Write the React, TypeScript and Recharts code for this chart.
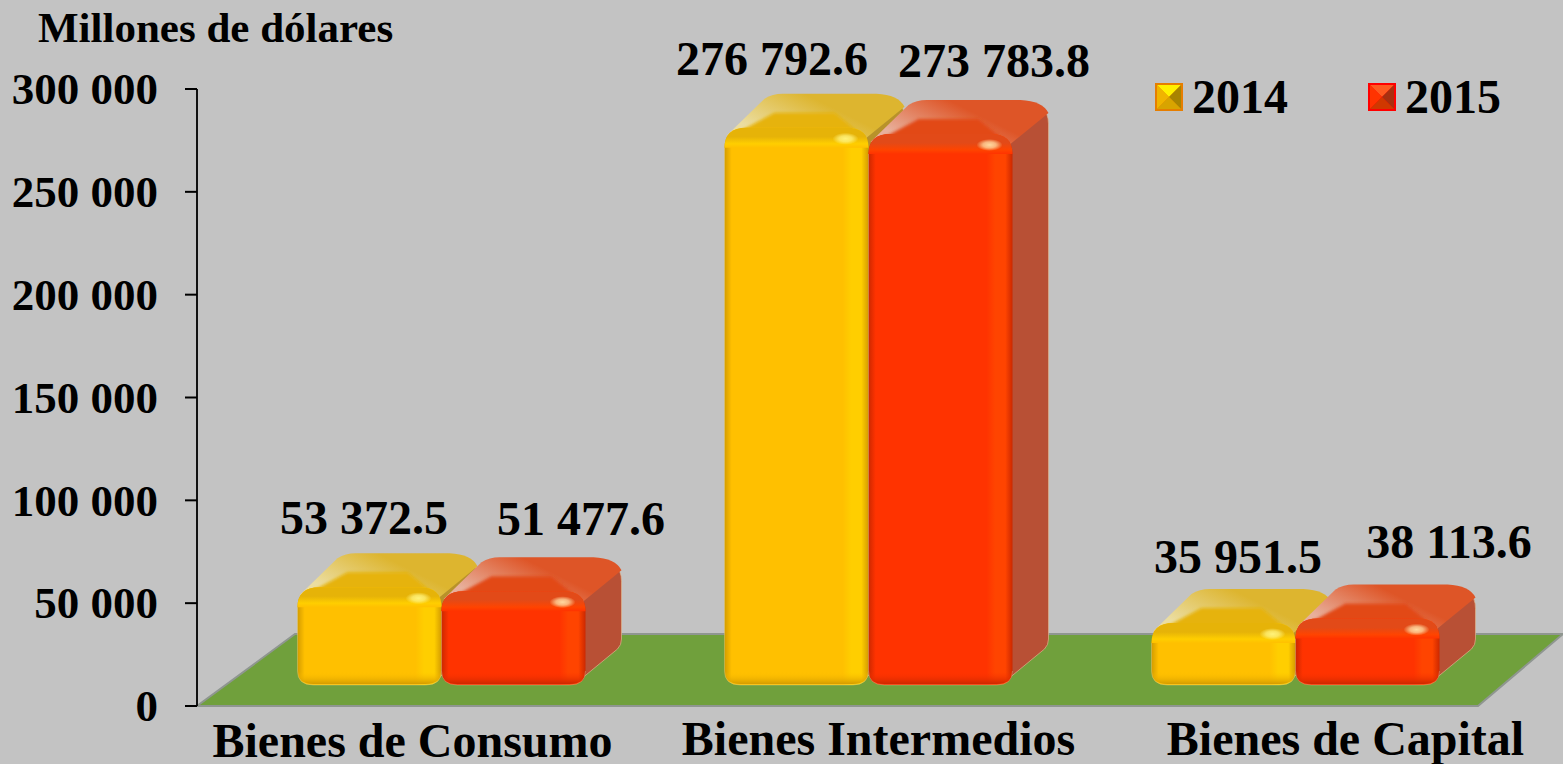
import React from "react";
import { BarChart, Bar, XAxis, YAxis, Legend, LabelList, ReferenceArea } from "recharts";

const categories = ["Bienes de Consumo", "Bienes Intermedios", "Bienes de Capital"];
const values2014 = [53372.5, 276792.6, 35951.5];
const values2015 = [51477.6, 273783.8, 38113.6];
const yTicks = [0, 50000, 100000, 150000, 200000, 250000, 300000];

const data = categories.map((name, i) => ({ name, y2014: values2014[i], y2015: values2015[i] }));

const SERIF = "'Liberation Serif', 'Times New Roman', serif";

// hand placed text offsets, the original has its labels dragged around
const catDx = [2, 41, 81];
const catY = [757, 755, 755];
const labelShift2014 = [[25, -62], [6, -62], [45, -59]];
const labelShift2015 = [[98, -65], [84, -66], [112, -70]];

const YELLOW = { id: "yel", front: "#FFC000", bright: "#FFCE00", edge: "#D49C00", side: "#B8922A", top: "#DDB52F", mid: "#E6B308", pale: "#EBDDA0", spec: "#FFF27A", line: "#E2CF8A" };
const RED = { id: "red", front: "#FF3300", bright: "#FF4400", edge: "#CC2800", side: "#B85035", top: "#DE5527", mid: "#E24A18", pale: "#E8B09C", spec: "#FFD9A0", line: "#DDB48E" };

const fmt = (v: number) => {
  const [a, b] = String(v).split(".");
  const s = a.replace(/\B(?=(\d{3})+(?!\d))/g, " ");
  return b ? s + "." + b : s;
};

function Gradients() {
  return (
    <defs>
      <filter id="soft" x="-10%" y="-10%" width="120%" height="120%">
        <feGaussianBlur stdDeviation="1.5" />
      </filter>
      {[YELLOW, RED].map((c) => (
        <React.Fragment key={c.id}>
          <linearGradient id={c.id + "H"} x1="0" x2="1" y1="0" y2="0">
            <stop offset="0" stopColor={c.edge} />
            <stop offset="0.05" stopColor={c.front} />
            <stop offset="0.82" stopColor={c.front} />
            <stop offset="0.88" stopColor={c.bright} />
            <stop offset="0.95" stopColor={c.bright} />
            <stop offset="1" stopColor={c.edge} />
          </linearGradient>
          <linearGradient id={c.id + "V"} x1="0" x2="0" y1="0" y2="1">
            <stop offset="0" stopColor={c.mid} />
            <stop offset="0.45" stopColor={c.mid} />
            <stop offset="0.8" stopColor={c.bright} />
            <stop offset="1" stopColor={c.front} />
          </linearGradient>
          <linearGradient id={c.id + "B"} x1="0" x2="0" y1="0" y2="1">
            <stop offset="0" stopColor={c.front} stopOpacity={0} />
            <stop offset="1" stopColor={c.edge} />
          </linearGradient>
          <linearGradient id={c.id + "P"} x1="0" x2="1" y1="0.5" y2="0">
            <stop offset="0" stopColor={c.pale} />
            <stop offset="0.55" stopColor={c.top} />
            <stop offset="1" stopColor={c.top} />
          </linearGradient>
          <radialGradient id={c.id + "S"}>
            <stop offset="0" stopColor={c.spec} />
            <stop offset="0.5" stopColor={c.spec} stopOpacity={0.75} />
            <stop offset="1" stopColor={c.spec} stopOpacity={0} />
          </radialGradient>
        </React.Fragment>
      ))}
    </defs>
  );
}

const SHIFT_X = 30.5;
const SHIFT_Y = 21;
const DEPTH_X = 36;
const DEPTH_Y = 33;

function makeBar(c: typeof YELLOW) {
  return function Bar3D(props: any) {
    const { x, y, width, height } = props;
    const L = x + SHIFT_X;
    const R = L + width;
    const T = y - 9;
    const B = y + height - SHIFT_Y;
    const backT = y - 10 - DEPTH_Y;
    const front = `M${L} ${T + 20} Q${L} ${T} ${L + 22} ${T} L${R - 22} ${T} Q${R} ${T} ${R} ${T + 20} L${R} ${B - 14} Q${R} ${B} ${R - 16} ${B} L${L + 16} ${B} Q${L} ${B} ${L} ${B - 14} Z`;
    return (
      <g>
        {/* right side */}
        <path
          d={`M${R - 2} ${T + 6} L${R + DEPTH_X - 6} ${backT + 10} Q${R + DEPTH_X} ${backT + 13} ${R + DEPTH_X} ${backT + 24} L${R + DEPTH_X} ${B - 46} Q${R + DEPTH_X} ${B - 40} ${R + DEPTH_X - 4} ${B - 36} L${R - 2} ${B - 8} Z`}
          fill={c.side}
          stroke={c.line}
          strokeWidth={0.7}
        />
        {/* top face */}
        <path
          d={`M${L + 2} ${T + 8} L${L + 40} ${backT + 5} Q${L + 48} ${backT} ${L + 58} ${backT} L${R + 8} ${backT} Q${R + DEPTH_X - 6} ${backT + 1} ${R + DEPTH_X} ${backT + 13} L${R - 2} ${T + 10} Z`}
          fill={`url(#${c.id}P)`}
        />
        <path d={`M${L + 3} ${T + 10} L${L + 50} ${T - 15} L${L + 110} ${T - 15} L${R - 3} ${T + 10} Z`} fill={c.mid} filter="url(#soft)" />
        {/* front */}
        <path d={front} fill={`url(#${c.id}H)`} />
        <path
          d={`M${L} ${T + 20} Q${L} ${T} ${L + 22} ${T} L${R - 22} ${T} Q${R} ${T} ${R} ${T + 20} Z`}
          fill={`url(#${c.id}V)`}
        />
        <path
          d={`M${L + 1} ${B - 13} L${R - 1} ${B - 13} Q${R - 1} ${B - 1} ${R - 16} ${B - 1} L${L + 16} ${B - 1} Q${L + 1} ${B - 1} ${L + 1} ${B - 13} Z`}
          fill={`url(#${c.id}B)`}
        />
        <path
          d={`M${L} ${T + 20} L${L} ${B - 14} Q${L} ${B} ${L + 16} ${B} L${R - 16} ${B} Q${R} ${B} ${R} ${B - 14}`}
          fill="none"
          stroke={c.line}
          strokeWidth={0.6}
          strokeOpacity={0.7}
        />
        <ellipse cx={R - 23} cy={T + 11} rx={13} ry={6} fill={`url(#${c.id}S)`} />
      </g>
    );
  };
}

const FloorShape = (props: any) => {
  const { x, y, width, height } = props;
  return (
    <path
      d={`M${x} ${y + height} L${x + width} ${y + height} L${x + width + 85} ${y} L${x + 98} ${y} Z`}
      fill="#70A03C"
      stroke="#8F9690"
      strokeWidth={2}
    />
  );
};

const YTick = (props: any) => {
  const { x, y, payload } = props;
  return (
    <text x={x} y={y} dy="0.34em" textAnchor="end" fontFamily={SERIF} fontWeight="bold" fontSize={45} fill="#000">
      {fmt(payload.value).replace(" ", "\u00A0")}
    </text>
  );
};

const CatTick = (props: any) => {
  const { x, payload, index } = props;
  return (
    <text x={x + catDx[index]} y={catY[index]} textAnchor="middle" fontFamily={SERIF} fontWeight="bold" fontSize={48} fill="#000">
      {payload.value}
    </text>
  );
};

const makeLabel = (shift: number[][]) => (props: any) => {
  const { x, y, width, value, index } = props;
  return (
    <text x={x + width / 2 + shift[index][0]} y={y + shift[index][1]} textAnchor="middle" fontFamily={SERIF} fontWeight="bold" fontSize={48} fill="#000">
      {fmt(value)}
    </text>
  );
};

const LegendIcon = ({ c }: { c: typeof YELLOW }) => {
  const yel = c.id === "yel";
  return (
    <svg width={28} height={28} style={{ display: "block" }}>
      <rect width={28} height={28} fill={yel ? "#E67E00" : "#FF0000"} />
      <polygon points="2,2 26,2 14,14" fill={yel ? "#FFF000" : "#FF5A20"} />
      <polygon points="2,2 2,26 14,14" fill={yel ? "#F0B400" : "#FF3300"} />
      <polygon points="26,2 26,26 14,14" fill={yel ? "#A88400" : "#A83010"} />
      <polygon points="2,26 26,26 14,14" fill={yel ? "#D8A400" : "#D03800"} />
    </svg>
  );
};

const LegendBox = (props: any) => (
  <div style={{ display: "flex", fontFamily: SERIF, fontWeight: "bold", fontSize: 48, lineHeight: "54px", color: "#000" }}>
    {props.payload.map((p: any, i: number) => (
      <div key={p.value} style={{ display: "flex", alignItems: "center", width: 213 }}>
        <LegendIcon c={i === 0 ? YELLOW : RED} />
        <span style={{ marginLeft: 9 }}>{p.value}</span>
      </div>
    ))}
  </div>
);

export default function App() {
  return (
    <div style={{ position: "absolute", left: 0, top: 0, width: 1563, height: 764, background: "#C3C3C3", overflow: "hidden" }}>
      <div style={{ position: "absolute", left: 38, top: 4, fontFamily: SERIF, fontWeight: "bold", fontSize: 43, lineHeight: "48px", whiteSpace: "nowrap" }}>
        Millones de dólares
      </div>
      <BarChart
        width={1563}
        height={764}
        data={data}
        margin={{ top: 89, right: 85, bottom: 0, left: 0 }}
        barCategoryGap={70}
        barGap={0}
      >
        <Gradients />
        <XAxis dataKey="name" height={58} axisLine={false} tickLine={false} interval={0} tick={<CatTick />} />
        <YAxis
          width={197}
          domain={[0, 300000]}
          ticks={yTicks}
          tickSize={12}
          tickMargin={27}
          interval={0}
          axisLine={{ stroke: "#111", strokeWidth: 2 }}
          tickLine={{ stroke: "#000", strokeWidth: 2 }}
          tick={<YTick />}
        />
        <ReferenceArea y1={0} y2={35000} ifOverflow="visible" shape={<FloorShape />} />
        <Legend
          layout="horizontal"
          verticalAlign="middle"
          align="center"
          content={<LegendBox />}
          wrapperStyle={{ left: 1155, top: 70, width: 426, height: 54 }}
        />
        <Bar dataKey="y2014" name="2014" shape={makeBar(YELLOW)} isAnimationActive={false}>
          <LabelList dataKey="y2014" content={makeLabel(labelShift2014)} />
        </Bar>
        <Bar dataKey="y2015" name="2015" shape={makeBar(RED)} isAnimationActive={false}>
          <LabelList dataKey="y2015" content={makeLabel(labelShift2015)} />
        </Bar>
      </BarChart>
    </div>
  );
}
